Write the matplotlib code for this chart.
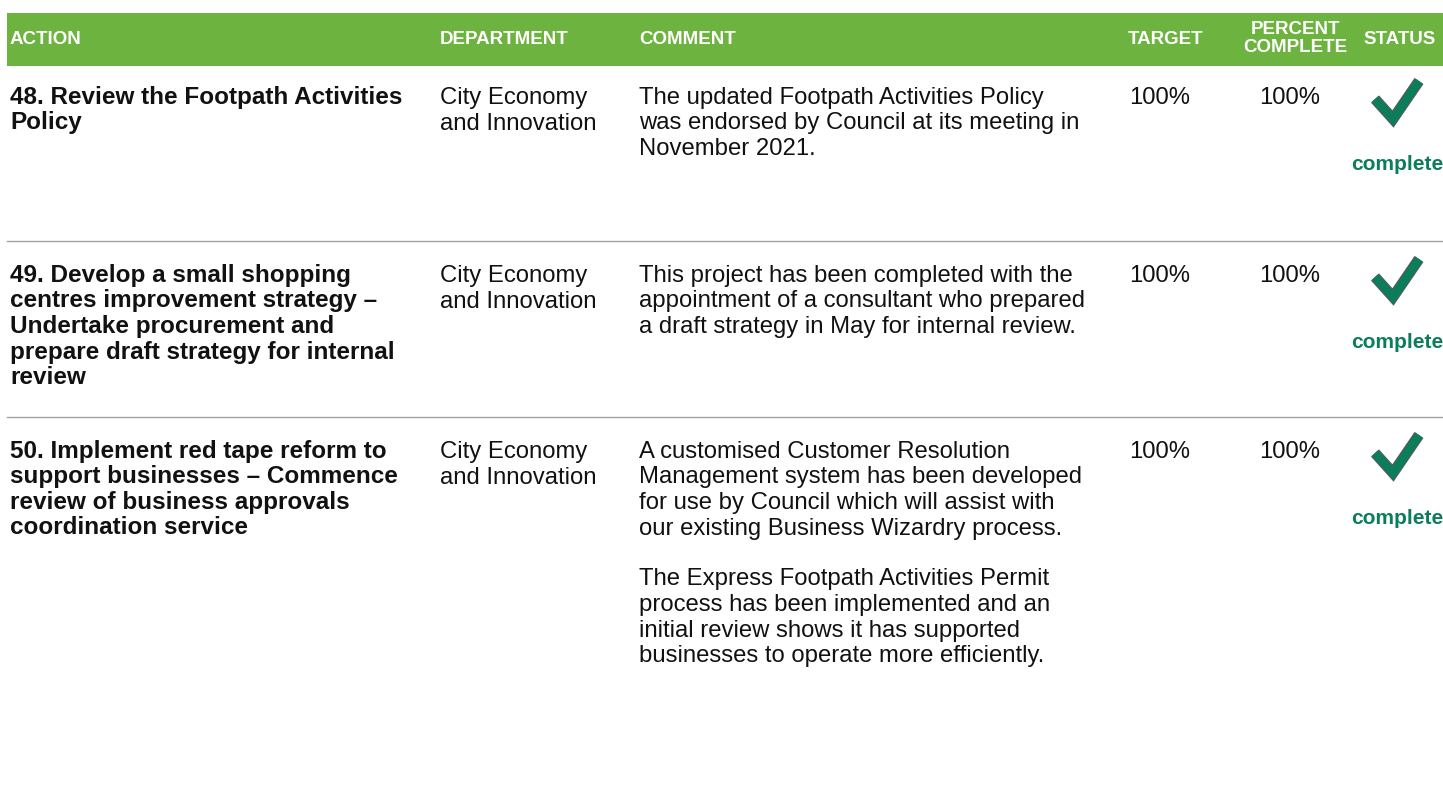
import matplotlib.pyplot as plt
from matplotlib.patches import Rectangle
from matplotlib import patheffects as pe

plt.rcParams['font.family'] = ['Liberation Sans', 'DejaVu Sans']

# table content
headers = ['ACTION', 'DEPARTMENT', 'COMMENT', 'TARGET', 'PERCENT\nCOMPLETE', 'STATUS']
actions = [
    '48. Review the Footpath Activities\nPolicy',
    '49. Develop a small shopping\ncentres improvement strategy \u2013\nUndertake procurement and\nprepare draft strategy for internal\nreview',
    '50. Implement red tape reform to\nsupport businesses \u2013 Commence\nreview of business approvals\ncoordination service',
]
departments = ['City Economy\nand Innovation'] * 3
comments = [
    'The updated Footpath Activities Policy\nwas endorsed by Council at its meeting in\nNovember 2021.',
    'This project has been completed with the\nappointment of a consultant who prepared\na draft strategy in May for internal review.',
    'A customised Customer Resolution\nManagement system has been developed\nfor use by Council which will assist with\nour existing Business Wizardry process.\n\n'
    'The Express Footpath Activities Permit\nprocess has been implemented and an\ninitial review shows it has supported\nbusinesses to operate more efficiently.',
]
targets = ['100%', '100%', '100%']
percentComplete = ['100%', '100%', '100%']
statuses = ['complete', 'complete', 'complete']

W, H = 1443, 785
headerGreen = '#6db33f'
checkGreen = '#0b7d5b'
ruleGray = '#a3a3a3'
bodySize = 17.2
lineH = 25.5

fig = plt.figure(figsize=(W / 100, H / 100), dpi=100)
ax = fig.add_axes([0, 0, 1, 1])
ax.set_xlim(0, W)
ax.set_ylim(H, 0)
ax.axis('off')

# header bar
ax.add_patch(Rectangle((7, 13), W - 7, 53, color=headerGreen, lw=0))
hdrX = [10, 440, 639, 1128, 1295, 1363]
hdrKw = dict(color='white', fontsize=13.5, fontweight='bold', va='center')
for x, h in zip(hdrX, headers):
    parts = h.split('\n')
    if len(parts) == 2:
        ax.text(x, 30, parts[0], ha='center', **hdrKw)
        ax.text(x, 47.5, parts[1], ha='center', **hdrKw)
    else:
        ax.text(x, 39.5, h, ha='left', **hdrKw)


def drawLines(x, top, text, size=bodySize, **kw):
    for i, line in enumerate(text.split('\n')):
        if line:
            ax.text(x, top + i * lineH, line, va='baseline', fontsize=size,
                    color='#111111', **kw)


rowTops = [63, 241, 417]
for i, t in enumerate(rowTops):
    if i > 0:
        ax.plot([7, W], [t, t], color=ruleGray, lw=1)
    base = t + 41
    drawLines(10, base, actions[i], size=17.5, fontweight='bold')
    drawLines(440, base, departments[i])
    drawLines(639, base, comments[i])
    drawLines(1160, base, targets[i], ha='center')
    drawLines(1290, base, percentComplete[i], ha='center')

    # status tick
    ax.plot([1375, 1393, 1419], [t + 36, t + 56, t + 18], color=checkGreen, lw=6.2,
            solid_joinstyle='miter', solid_capstyle='butt',
            path_effects=[pe.Stroke(linewidth=7.8, foreground='#5a5a5a'), pe.Normal()])
    ax.text(1397, t + 101, statuses[i], ha='center', va='center', fontsize=15,
            fontweight='bold', color=checkGreen)

fig.savefig('out.png', dpi=100)
